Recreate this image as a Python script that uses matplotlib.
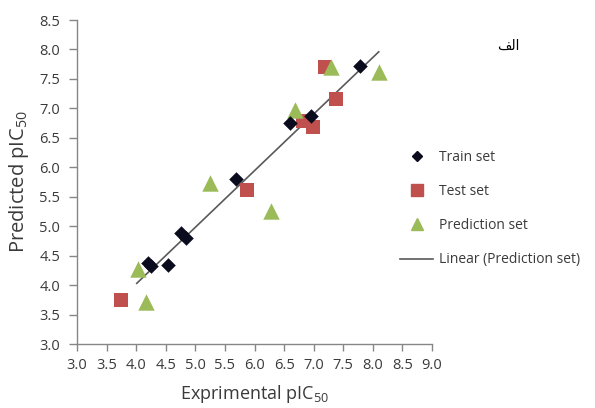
import matplotlib
matplotlib.use("Agg")
import matplotlib.pyplot as plt
from matplotlib.lines import Line2D

plt.rcParams['font.family'] = ['Open Sans', 'DejaVu Sans']

train_x = [7.78, 6.95, 6.60, 5.69, 4.76, 4.84, 4.20, 4.25, 4.54]
train_y = [7.72, 6.87, 6.75, 5.80, 4.88, 4.80, 4.38, 4.32, 4.34]
test_x = [7.19, 7.38, 6.82, 6.99, 5.87, 3.74]
test_y = [7.70, 7.16, 6.79, 6.68, 5.61, 3.75]
pred_x = [7.29, 8.10, 6.68, 5.25, 6.28, 4.03, 4.17]
pred_y = [7.70, 7.62, 6.97, 5.73, 5.26, 4.27, 3.71]
line_x = [4.01, 8.10]
line_y = [4.03, 7.96]
x_ticks = [3.0, 3.5, 4.0, 4.5, 5.0, 5.5, 6.0, 6.5, 7.0, 7.5, 8.0, 8.5, 9.0]
y_ticks = [3.0, 3.5, 4.0, 4.5, 5.0, 5.5, 6.0, 6.5, 7.0, 7.5, 8.0, 8.5]

W, H = 595, 408
fig = plt.figure(figsize=(W/100, H/100), dpi=100)
ax = fig.add_axes([77/W, 1-344/H, (432-77)/W, (344-20)/H])

grey = '#868686'
txt = '#3a3a3a'
ax.plot(line_x, line_y, color='#595959', lw=1.2, zorder=2)
ax.scatter(train_x, train_y, marker='D', s=55, color='#0b0b1e', zorder=4, linewidths=0)
ax.scatter(test_x, test_y, marker='s', s=110, color='#c0504d', zorder=3, linewidths=0)
ax.scatter(pred_x, pred_y, marker='^', s=140, color='#9bbb59', zorder=3, linewidths=0)

ax.set_xlim(3.0, 9.0)
ax.set_ylim(3.0, 8.5)
ax.set_xticks(x_ticks)
ax.set_yticks(y_ticks)
ax.set_xticklabels([f"{v:.1f}" for v in x_ticks])
ax.set_yticklabels([f"{v:.1f}" for v in y_ticks])
for s in ['top', 'right']:
    ax.spines[s].set_visible(False)
for s in ['left', 'bottom']:
    ax.spines[s].set_color(grey)
    ax.spines[s].set_linewidth(1.0)
ax.tick_params(axis='both', colors=grey, labelcolor=txt, labelsize=10.5, width=1, direction='out')
ax.tick_params(axis='y', length=6, pad=6)
ax.tick_params(axis='x', length=5, pad=5)

ax.set_xlabel('Exprimental pIC$_{\\mathregular{50}}$', fontsize=13, color=txt, labelpad=7)
ax.set_ylabel('Predicted pIC$_{\\mathregular{50}}$', fontsize=14.5, color=txt, labelpad=6)

handles = [
    Line2D([], [], marker='D', ls='none', color='#0b0b1e', markersize=5.5),
    Line2D([], [], marker='s', ls='none', color='#c0504d', markersize=8),
    Line2D([], [], marker='^', ls='none', color='#9bbb59', markersize=9),
    Line2D([], [], color='#595959', lw=1.2),
]
labels = ['Train set', 'Test set', 'Prediction set', 'Linear (Prediction set)']
fig.legend(handles, labels, loc='upper left', bbox_to_anchor=(400/W, 1-150/H),
           frameon=False, fontsize=10, labelcolor=txt, handlelength=2.4,
           labelspacing=1.38, handletextpad=0.42, borderaxespad=0, borderpad=0)

fig.text(497/W, 1-46/H, '\uFED2\uFEDF\uFE8D', fontsize=10, color='black',
         family='DejaVu Sans', ha='left', va='center')

fig.savefig('out.png', dpi=100)
